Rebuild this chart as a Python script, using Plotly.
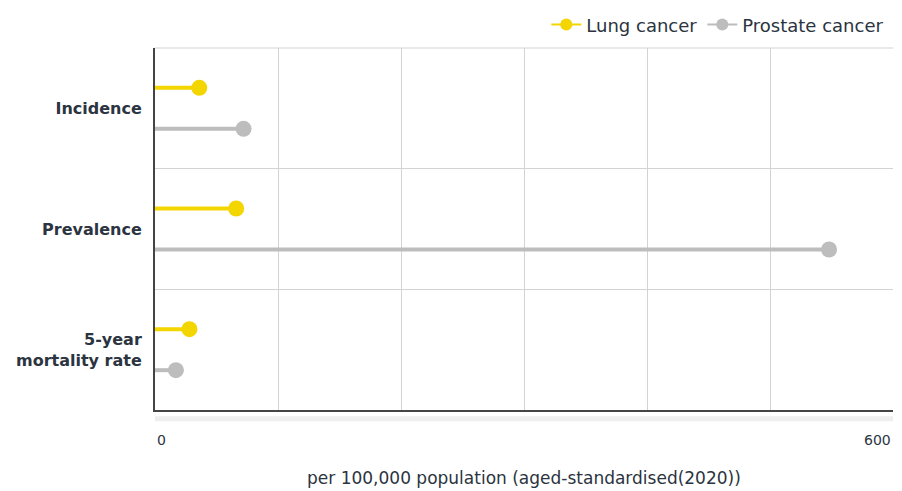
import plotly.graph_objects as go

categories = ["Incidence", "Prevalence", "5-year<br>mortality rate"]
lung_cancer = [36, 66, 28]
prostate_cancer = [72, 548, 17]
x_ticks = [0, 100, 200, 300, 400, 500, 600]
x_tick_labels = ["0", "600"]
x_title = "per 100,000 population (aged-standardised(2020))"

YELLOW = "#F3D500"
GRAY = "#BDBDBD"
TEXT = "#2B3440"
FONT = "DejaVu Sans, sans-serif"

n = len(categories)
centers = [n - 1 - i + 0.5 for i in range(n)]
offset = 0.17

fig = go.Figure()

def add_series(values, name, color, dy):
    xs, ys = [], []
    for c, v in zip(centers, values):
        xs += [0, v, None]
        ys += [c + dy, c + dy, None]
    fig.add_trace(go.Scatter(x=xs, y=ys, mode="lines", line=dict(color=color, width=4),
                             showlegend=False, hoverinfo="skip"))
    fig.add_trace(go.Scatter(x=values, y=[c + dy for c in centers], mode="markers",
                             marker=dict(color=color, size=16), showlegend=False, name=name))
    fig.add_trace(go.Scatter(x=[None], y=[None], mode="lines+markers", name=name,
                             line=dict(color=color, width=2), marker=dict(color=color, size=12)))

add_series(lung_cancer, "Lung cancer", YELLOW, offset)
add_series(prostate_cancer, "Prostate cancer", GRAY, -offset)

fig.update_layout(
    width=902, height=491,
    margin=dict(l=155, r=9, t=48, b=81, autoexpand=False),
    paper_bgcolor="white", plot_bgcolor="white",
    font=dict(family=FONT, color=TEXT),
    legend=dict(orientation="h", x=0.995, xanchor="right", y=1.064, yanchor="middle",
                font=dict(size=18, color=TEXT), traceorder="normal"),
    xaxis=dict(range=[0, 600], tickvals=x_ticks, showticklabels=False,
               showgrid=True, gridcolor="#D3D3D3", gridwidth=1, zeroline=False,
               showline=True, linecolor="#444444", linewidth=2, automargin=False),
    yaxis=dict(range=[0, n], tickvals=centers, ticktext=["<b>%s</b>" % c for c in categories],
               tickfont=dict(size=16, color=TEXT), ticks="outside", ticklen=8,
               tickcolor="rgba(0,0,0,0)", showgrid=False, zeroline=False,
               showline=True, linecolor="#444444", linewidth=2, automargin=False,
               minor=dict(tickvals=list(range(1, n)), showgrid=True, gridcolor="#D3D3D3",
                          gridwidth=1, ticks="")),
)

fig.add_shape(type="line", xref="paper", yref="paper", x0=0, x1=1, y0=1, y1=1,
              line=dict(color="#D3D3D3", width=1))
fig.add_shape(type="line", xref="paper", yref="paper", x0=0, x1=1, y0=-0.024, y1=-0.024,
              line=dict(color="#EEEEEE", width=5))

fig.add_annotation(x=0, y=-0.083, xref="paper", yref="paper", text=x_tick_labels[0],
                   showarrow=False, xanchor="left", yanchor="middle", font=dict(size=14, color=TEXT))
fig.add_annotation(x=1, y=-0.083, xref="paper", yref="paper", text=x_tick_labels[1],
                   showarrow=False, xanchor="right", yanchor="middle", font=dict(size=14, color=TEXT))
fig.add_annotation(x=0.5, y=-0.188, xref="paper", yref="paper", text=x_title,
                   showarrow=False, xanchor="center", yanchor="middle", font=dict(size=17, color=TEXT))

fig.write_html("out.html", config={"displayModeBar": False},
               post_script="document.body.style.margin='0';document.body.style.padding='0';")
